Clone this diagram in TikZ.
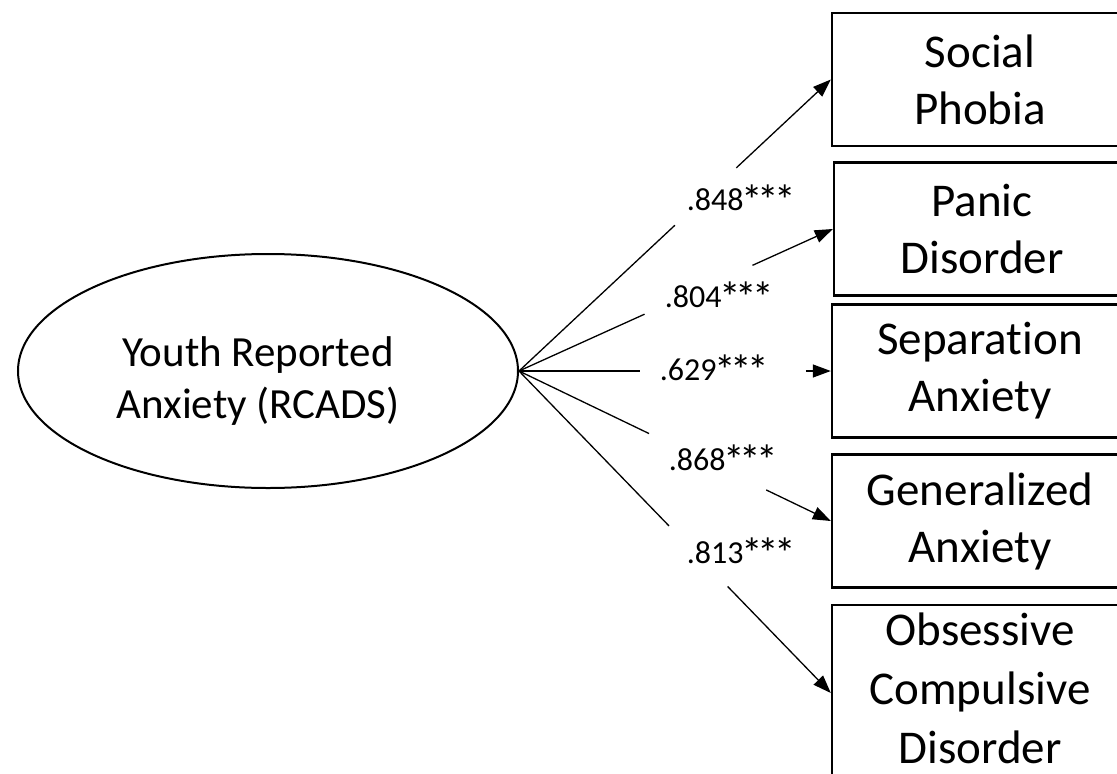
\documentclass[tikz,border=0pt]{standalone}
\usepackage{fontspec}
\setmainfont{Carlito}[Ligatures={NoCommon}]
\usetikzlibrary{arrows.meta,shapes.geometric,calc}
\newcommand{\sigstar}{\makebox[16.5pt]{\raisebox{-5pt}{\scalebox{1.35}{*}}}}
\tikzset{
  boxnode/.style={draw, line width=2.4pt, minimum width=296pt, minimum height=133pt, inner sep=0pt, align=center, font=\fontsize{47}{57}\selectfont},
  latent/.style={draw, ellipse, line width=2pt, minimum width=500pt, minimum height=234pt, inner sep=0pt},
  lattext/.style={align=center, inner sep=0pt, font=\fontsize{43}{52}\selectfont},
  path/.style={line width=1.3pt},
  patharrow/.style={line width=1.3pt, -{Triangle[length=18pt,width=13pt]}},
  coef/.style={font=\fontsize{32}{38}\selectfont, inner sep=0pt}
}
\begin{document}
\begin{tikzpicture}[x=1pt,y=-1pt]
\useasboundingbox (0,0) rectangle (1117,774);
\node[latent] (Y) at (268,371) {};
\node[lattext] (Yt) at (258,381) {Youth Reported\\Anxiety (RCADS)};
\node[boxnode] (S) at (980,79.5) {Social\\Phobia};
\node[boxnode] (P) at (982,229) {Panic\\Disorder};
\node[boxnode] (Sep) at (980,371) {Separation\\Anxiety};
\node[boxnode] (G) at (980,521) {Generalized\\Anxiety};
\node[boxnode, minimum height=176pt, text depth=10pt, font=\fontsize{47}{59}\selectfont] (O) at (980,693) {Obsessive\\Compulsive\\Disorder};
% Social Phobia
\draw[path] (Y.east) -- ($(Y.east)!0.5!(S.west)$);
\draw[patharrow] ($(Y.east)!0.697!(S.west)$) -- (S.west);
% Panic
\draw[path] (Y.east) -- ($(Y.east)!0.40!(P.west)$);
\draw[patharrow] ($(Y.east)!0.744!(P.west)$) -- (P.west);
% Separation
\draw[path] (Y.east) -- ($(Y.east)!0.389!(Sep.west)$);
\draw[patharrow] ($(Y.east)!0.92!(Sep.west)$) -- (Sep.west);
% Generalized
\draw[path] (Y.east) -- ($(Y.east)!0.417!(G.west)$);
\draw[patharrow] ($(Y.east)!0.793!(G.west)$) -- (G.west);
% OCD
\draw[path] (Y.east) -- ($(Y.east)!0.481!(O.west)$);
\draw[patharrow] ($(Y.east)!0.669!(O.west)$) -- (O.west);
% coefficients
\node[coef] (c1) at (740,200) {.848\sigstar\sigstar\sigstar};
\node[coef] (c2) at (718,297) {.804\sigstar\sigstar\sigstar};
\node[coef] (c3) at (713,370) {.629\sigstar\sigstar\sigstar};
\node[coef] (c4) at (722,460) {.868\sigstar\sigstar\sigstar};
\node[coef] (c5) at (740,553) {.813\sigstar\sigstar\sigstar};
\end{tikzpicture}
\end{document}
